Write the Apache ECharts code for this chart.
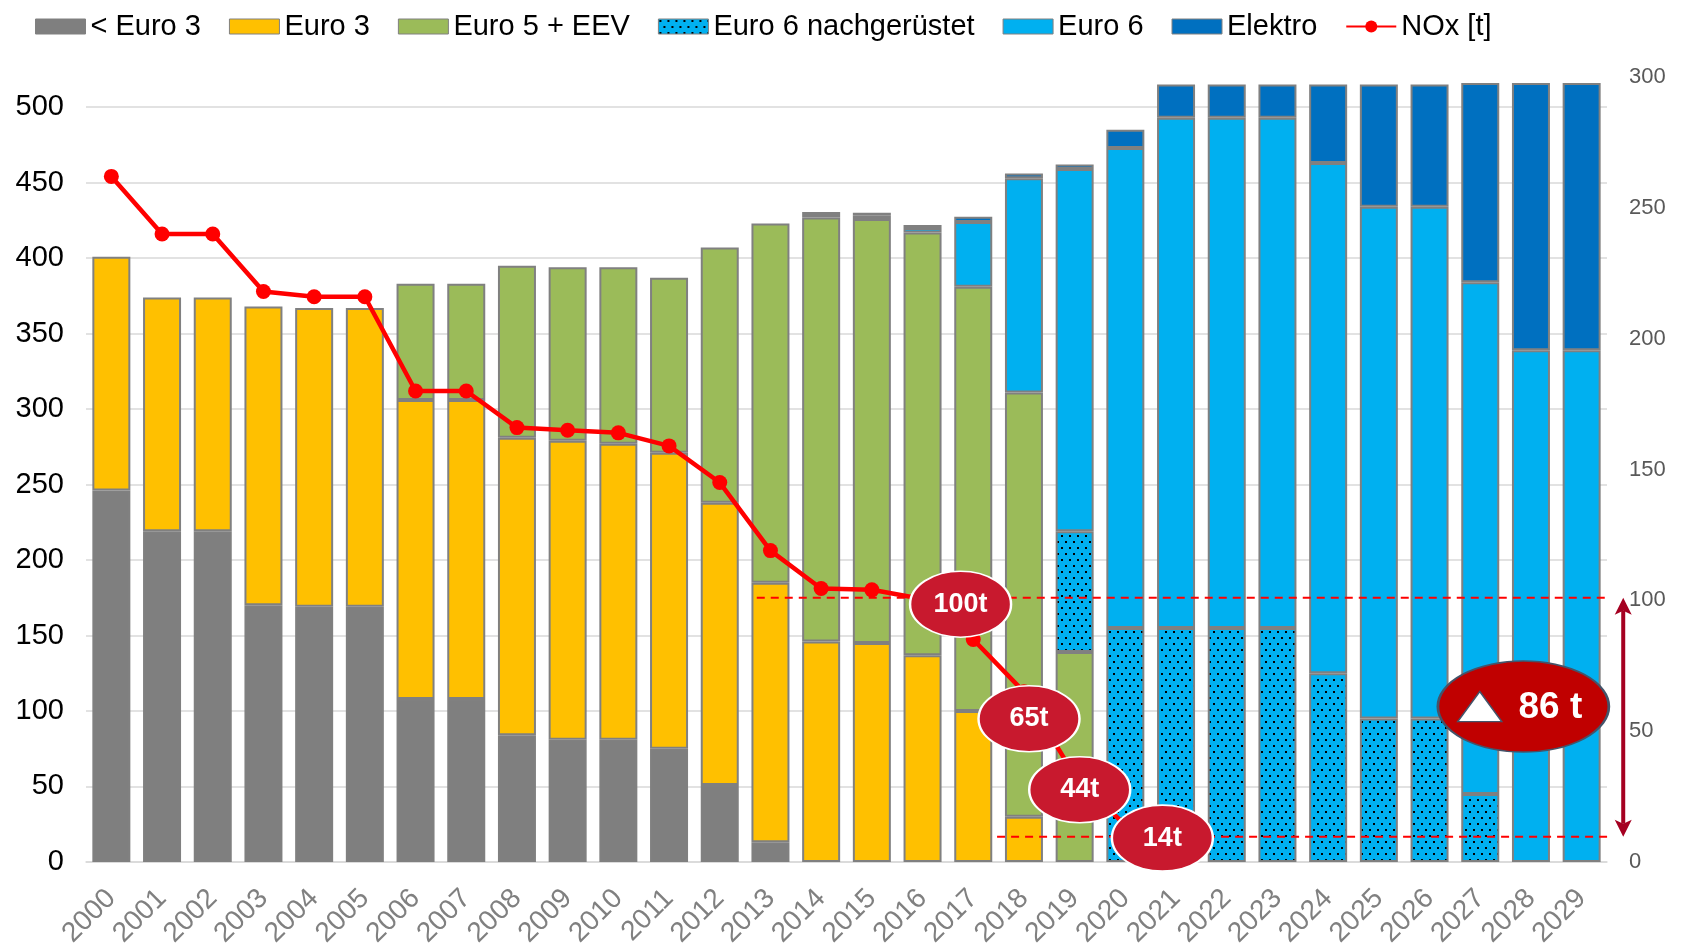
<!DOCTYPE html>
<html>
<head>
<meta charset="utf-8">
<title>Busflotte und NOx</title>
<script src="https://cdn.jsdelivr.net/npm/echarts@6.0.0/dist/echarts.min.js"></script>
<style>
  html, body { margin: 0; padding: 0; background: #fff; }
  #main { width: 1682px; height: 950px; }
</style>
</head>
<body>
<div id="main"></div>
<script>
// Jahre auf der x-Achse
var years = ['2000', '2001', '2002', '2003', '2004', '2005', '2006', '2007', '2008', '2009',
  '2010', '2011', '2012', '2013', '2014', '2015', '2016', '2017', '2018', '2019',
  '2020', '2021', '2022', '2023', '2024', '2025', '2026', '2027', '2028', '2029']

// Anzahl Busse je Abgasnorm (linke Achse)
var unterEuro3 = [246, 219, 219, 170, 169, 169, 108, 108, 84, 81, 81, 75, 51, 13, 0, 0, 0, 0, 0, 0,
  0, 0, 0, 0, 0, 0, 0, 0, 0, 0]
var euro3 = [155, 155, 155, 198, 198, 198, 198, 198, 197, 198, 196, 196, 187, 172, 146, 145, 137, 100, 30, 0,
  0, 0, 0, 0, 0, 0, 0, 0, 0, 0]
var euro5 = [0, 0, 0, 0, 0, 0, 77, 77, 114, 115, 117, 116, 169, 238, 281, 281, 280, 281, 281, 139,
  0, 0, 0, 0, 0, 0, 0, 0, 0, 0]
var euro6Nachr = [0, 0, 0, 0, 0, 0, 0, 0, 0, 0, 0, 0, 0, 0, 0, 0, 0, 0, 0, 80,
  155, 155, 155, 155, 125, 95, 95, 45, 0, 0]
var euro6 = [0, 0, 0, 0, 0, 0, 0, 0, 0, 0, 0, 0, 0, 0, 1.5, 2, 3, 43, 142, 240,
  318, 338, 338, 338, 338, 339, 339, 339, 339, 339]
var elektro = [0, 0, 0, 0, 0, 0, 0, 0, 0, 0, 0, 0, 0, 0, 2, 2, 2, 3.5, 3, 3,
  12, 22, 22, 22, 52, 81, 81, 132, 177, 177]

// NOx in Tonnen (rechte Achse)
var nox = [262, 240, 240, 218, 216, 216, 180, 180, 166, 165, 164, 159, 145, 119, 104.5, 104, 100.5, 85, 65, 33, 14]

// Beschriftungen (Position: Jahr-Index, NOx-Wert)
var noteText = ['100t', '65t', '44t', '14t']
var noteX = [16.75, 18.1, 19.1, 20.73]
var noteY = [98.5, 54.7, 27.6, 9.1]
var diffText = '86 t'
var diffX = 27.85
var diffY = 59.4
var triX = 26.99
var upperLevel = 101
var lowerLevel = 9.6
var arrowX = 29.82

var fontFam = '"Liberation Sans", Arial, sans-serif'

function dotPattern() {
  var c = document.createElement('canvas')
  c.width = 8
  c.height = 12
  var g = c.getContext('2d')
  g.fillStyle = '#00B0F0'
  g.fillRect(0, 0, 8, 12)
  g.fillStyle = '#000'
  g.fillRect(1, 1, 2, 2)
  g.fillRect(5, 7, 2, 2)
  return c
}

function bars(arr) {
  // leere Segmente nicht zeichnen
  return arr.map(function (v) { return v ? v : '-' })
}

function barSeries(name, data, color) {
  return {
    name: name,
    type: 'bar',
    stack: 'flotte',
    barWidth: 38,
    data: bars(data),
    itemStyle: { color: color, borderColor: '#808080', borderWidth: 2 },
    emphasis: { disabled: true }
  }
}

var ellipse = 'path://M0,50 A50,50 0 1,1 100,50 A50,50 0 1,1 0,50 Z'

var noteData = noteText.map(function (t, i) {
  return {
    value: [noteX[i], noteY[i]],
    label: { formatter: t }
  }
})

// Doppelpfeil zwischen zwei Werten
function renderArrow(params, api) {
  var x = api.value(0)
  var top = api.coord([x, api.value(1)])
  var bot = api.coord([x, api.value(2)])
  var w = 8.5
  var h = 17
  var col = '#A50021'
  return {
    type: 'group',
    children: [
      { type: 'line', shape: { x1: top[0], y1: top[1] + h - 4, x2: bot[0], y2: bot[1] - h + 4 }, style: { stroke: col, lineWidth: 4 } },
      { type: 'polygon', shape: { points: [[top[0], top[1]], [top[0] - w, top[1] + h], [top[0], top[1] + h - 4], [top[0] + w, top[1] + h]] }, style: { fill: col } },
      { type: 'polygon', shape: { points: [[bot[0], bot[1]], [bot[0] - w, bot[1] - h], [bot[0], bot[1] - h + 4], [bot[0] + w, bot[1] - h]] }, style: { fill: col } }
    ]
  }
}

var myChart = echarts.init(document.getElementById('main'))

var legendNames = ['< Euro 3', 'Euro 3', 'Euro 5 + EEV', 'Euro 6 nachgerüstet', 'Euro 6', 'Elektro']

var option = {
  animation: false,
  textStyle: { fontFamily: fontFam },
  legend: {
    left: 30,
    top: 7,
    itemWidth: 50,
    itemHeight: 15,
    itemGap: 28,
    data: legendNames.map(function (n) { return { name: n, icon: 'rect' } }).concat([{ name: 'NOx [t]' }]),
    itemStyle: { borderWidth: 1 },
    textStyle: { fontSize: 29, color: '#000', fontFamily: fontFam }
  },
  grid: { left: 86, right: 75, top: 77, bottom: 87.5 },
  xAxis: [{
    type: 'category',
    data: years,
    axisTick: { show: false },
    axisLine: { lineStyle: { color: '#D9D9D9', width: 1.5 } },
    axisLabel: { interval: 0, rotate: 45, color: '#808080', fontSize: 28, margin: 32, fontFamily: fontFam }
  }, {
    type: 'value',
    min: -0.5,
    max: 29.5,
    show: false
  }],
  yAxis: [{
    type: 'value',
    min: 0,
    max: 520,
    interval: 50,
    axisLine: { show: false },
    axisTick: { show: false },
    axisLabel: { color: '#000', fontSize: 29, margin: 22, showMaxLabel: false, fontFamily: fontFam },
    splitLine: { showMaxLine: false, lineStyle: { color: '#D9D9D9', width: 1.5 } }
  }, {
    type: 'value',
    min: 0,
    max: 300,
    interval: 50,
    axisLine: { show: false },
    axisTick: { show: false },
    splitLine: { show: false },
    axisLabel: { color: '#595959', fontSize: 22, margin: 22, fontFamily: fontFam }
  }],
  series: [
    barSeries('< Euro 3', unterEuro3, '#7F7F7F'),
    barSeries('Euro 3', euro3, '#FFC000'),
    barSeries('Euro 5 + EEV', euro5, '#9BBB59'),
    barSeries('Euro 6 nachgerüstet', euro6Nachr, { image: dotPattern(), repeat: 'repeat' }),
    barSeries('Euro 6', euro6, '#00B0F0'),
    barSeries('Elektro', elektro, '#0070C0'),
    {
      name: 'NOx [t]',
      type: 'line',
      yAxisIndex: 1,
      data: nox,
      z: 5,
      symbol: 'circle',
      symbolSize: 15,
      lineStyle: { color: '#FF0000', width: 4.5 },
      itemStyle: { color: '#FF0000' },
      emphasis: { disabled: true }
    },
    // gestrichelte Linien 100t / 14t
    {
      type: 'line',
      xAxisIndex: 1,
      yAxisIndex: 1,
      clip: false,
      z: 6,
      symbol: 'none',
      silent: true,
      lineStyle: { color: '#FF0000', width: 2, type: [8, 6] },
      data: [[12.73, upperLevel], [30.6, upperLevel]]
    },
    {
      type: 'line',
      xAxisIndex: 1,
      yAxisIndex: 1,
      clip: false,
      z: 6,
      symbol: 'none',
      silent: true,
      lineStyle: { color: '#FF0000', width: 2, type: [8, 6] },
      data: [[17.47, lowerLevel], [30.6, lowerLevel]]
    },
    {
      type: 'custom',
      xAxisIndex: 1,
      yAxisIndex: 1,
      clip: false,
      z: 7,
      silent: true,
      renderItem: renderArrow,
      encode: { x: 0, y: [1, 2] },
      data: [[arrowX, upperLevel, lowerLevel]]
    },
    // Ellipsen mit Werten
    {
      type: 'scatter',
      xAxisIndex: 1,
      yAxisIndex: 1,
      clip: false,
      z: 10,
      silent: true,
      symbol: ellipse,
      symbolSize: [101, 66],
      itemStyle: { color: '#C8192E', borderColor: '#FFFFFF', borderWidth: 2, opacity: 1 },
      label: { show: true, position: 'inside', color: '#fff', fontSize: 27, fontWeight: 'bold', fontFamily: fontFam },
      data: noteData
    },
    {
      type: 'scatter',
      xAxisIndex: 1,
      yAxisIndex: 1,
      clip: false,
      z: 11,
      silent: true,
      symbol: ellipse,
      symbolSize: [171, 91],
      itemStyle: { color: '#C00000', borderColor: '#44546A', borderWidth: 2, opacity: 1 },
      label: {
        show: true, position: 'inside', offset: [27, 1], formatter: diffText,
        color: '#fff', fontSize: 37, fontWeight: 'bold', fontFamily: fontFam
      },
      data: [[diffX, diffY]]
    },
    {
      type: 'scatter',
      xAxisIndex: 1,
      yAxisIndex: 1,
      clip: false,
      z: 12,
      silent: true,
      symbol: 'triangle',
      symbolSize: [44, 30],
      itemStyle: { color: '#FFFFFF', borderColor: '#44546A', borderWidth: 1.5, opacity: 1 },
      data: [[triX, diffY]]
    }
  ]
}

myChart.setOption(option)
</script>
</body>
</html>
